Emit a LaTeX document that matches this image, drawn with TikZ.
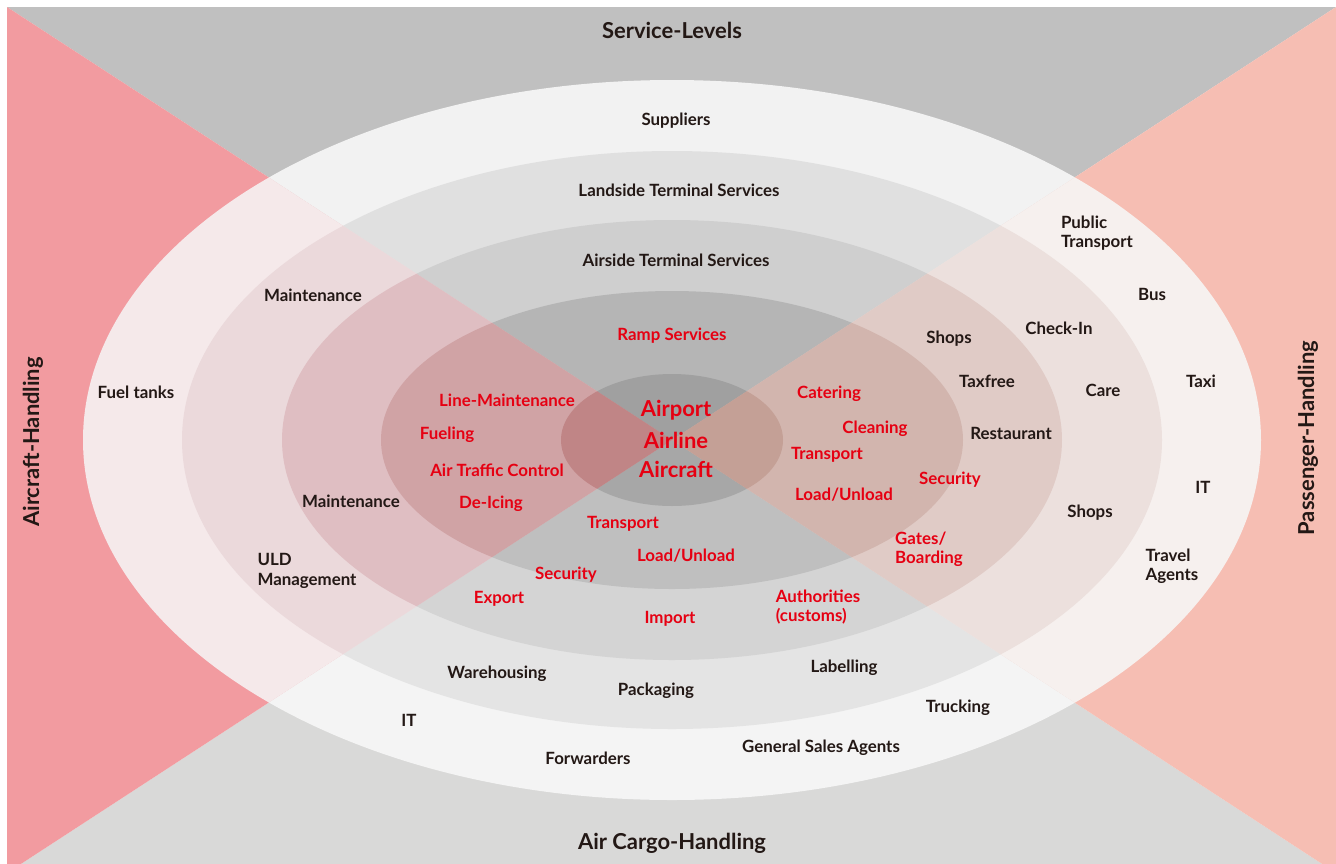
\documentclass[tikz,border=0pt]{standalone}
\usepackage{fontspec}
\setmainfont{Lato}
\definecolor{toptri}{RGB}{192,192,192}
\definecolor{bottri}{RGB}{217,217,216}
\definecolor{lefttri}{RGB}{242,155,160}
\definecolor{righttri}{RGB}{246,190,179}
\definecolor{labelred}{RGB}{230,0,18}
\definecolor{labeldark}{RGB}{35,24,21}
% ring shades, outer (a) to inner (e)
\definecolor{ringtopa}{RGB}{242,242,242}
\definecolor{ringtopb}{RGB}{224,224,224}
\definecolor{ringtopc}{RGB}{207,207,207}
\definecolor{ringtopd}{RGB}{181,181,181}
\definecolor{ringtope}{RGB}{160,160,160}
\definecolor{ringbota}{RGB}{244,244,244}
\definecolor{ringbotb}{RGB}{228,228,228}
\definecolor{ringbotc}{RGB}{212,212,212}
\definecolor{ringbotd}{RGB}{191,191,191}
\definecolor{ringbote}{RGB}{167,167,167}
\definecolor{ringlefta}{RGB}{245,233,234}
\definecolor{ringleftb}{RGB}{235,217,219}
\definecolor{ringleftc}{RGB}{223,190,194}
\definecolor{ringleftd}{RGB}{208,163,165}
\definecolor{ringlefte}{RGB}{192,133,134}
\definecolor{ringrighta}{RGB}{246,240,238}
\definecolor{ringrightb}{RGB}{236,224,221}
\definecolor{ringrightc}{RGB}{224,203,198}
\definecolor{ringrightd}{RGB}{210,181,174}
\definecolor{ringrighte}{RGB}{196,160,150}

\tikzset{
  darklabel/.style={font=\fontsize{9.6}{11}\selectfont\bfseries, text=labeldark, align=left, inner sep=0pt},
  redlabel/.style={darklabel, text=labelred},
  hublabel/.style={font=\fontsize{12.5}{15}\selectfont\bfseries, text=labelred, align=center, inner sep=0pt},
  sidelabel/.style={font=\fontsize{12.5}{14}\selectfont\bfseries, text=labeldark, inner sep=0pt}
}

\begin{document}
\begin{tikzpicture}[x=0.02cm, y=-0.02cm]
    \useasboundingbox (0,0) rectangle (1336,863);
    \clip (0,0) rectangle (1336,863);
    \coordinate (hub) at (672,440);

    % Four handling areas
    \fill[toptri] (7,7) -- (1336,7) -- (hub) -- cycle;
    \fill[bottri] (7,873) -- (1336,873) -- (hub) -- cycle;
    \fill[lefttri] (7,7) -- (7,873) -- (hub) -- cycle;
    \fill[righttri] (1336,7) -- (1336,873) -- (hub) -- cycle;

    % Service rings
    \foreach \rx/\ry/\n in {589/360/a, 490/289/b, 390/220/c, 291/149/d, 111/66/e} {
        \begin{scope}
            \clip (7,7) -- (1336,7) -- (hub) -- cycle;
            \fill[ringtop\n] (hub) ellipse [x radius=\rx, y radius=\ry];
        \end{scope}
        \begin{scope}
            \clip (7,873) -- (1336,873) -- (hub) -- cycle;
            \fill[ringbot\n] (hub) ellipse [x radius=\rx, y radius=\ry];
        \end{scope}
        \begin{scope}
            \clip (7,7) -- (7,873) -- (hub) -- cycle;
            \fill[ringleft\n] (hub) ellipse [x radius=\rx, y radius=\ry];
        \end{scope}
        \begin{scope}
            \clip (1336,7) -- (1336,873) -- (hub) -- cycle;
            \fill[ringright\n] (hub) ellipse [x radius=\rx, y radius=\ry];
        \end{scope}
    }

    % Area titles
    \node[sidelabel] (svclevels) at (672,30) {Service-Levels};
    \node[sidelabel] (cargohdl) at (672,843) {Air Cargo-Handling};
    \node[sidelabel, rotate=90] (acfthdl) at (33,442) {Aircraft-Handling};
    \node[sidelabel, rotate=90] (paxhdl) at (1308,438) {Passenger-Handling};

    % Ring titles
    \node[darklabel] (suppliers) at (676,121) {Suppliers};
    \node[darklabel] (landside) at (679,190) {Landside Terminal Services};
    \node[darklabel] (airside) at (676,260) {Airside Terminal Services};
    \node[redlabel] (ramp) at (672,336) {Ramp Services};
    \node[hublabel] (airport) at (676,410) {Airport};
    \node[hublabel] (airline) at (676,440) {Airline};
    \node[hublabel] (aircraft) at (676,469) {Aircraft};

    % Aircraft-Handling
    \node[darklabel] (maint) at (313,295) {Maintenance};
    \node[darklabel] (fueltanks) at (136,392) {Fuel tanks};
    \node[darklabel] (maintb) at (351,501) {Maintenance};
    \node[darklabel] (uld) at (307,571) {ULD\\Management};
    \node[redlabel] (linemaint) at (507,400) {Line-Maintenance};
    \node[redlabel] (fueling) at (447,435) {Fueling};
    \node[redlabel] (atc) at (497,470) {Air Traffic Control};
    \node[redlabel] (deicing) at (491,504) {De-Icing};

    % Air Cargo-Handling
    \node[redlabel] (cargotransp) at (623,524) {Transport};
    \node[redlabel] (cargoload) at (686,556) {Load/Unload};
    \node[redlabel] (cargosec) at (566,575) {Security};
    \node[redlabel] (export) at (499,599) {Export};
    \node[redlabel] (import) at (670,619) {Import};
    \node[redlabel] (customs) at (818,607) {Authorities\\(customs)};
    \node[darklabel] (warehouse) at (497,674) {Warehousing};
    \node[darklabel] (packaging) at (656,691) {Packaging};
    \node[darklabel] (labelling) at (844,668) {Labelling};
    \node[darklabel] (cargoit) at (409,720) {IT};
    \node[darklabel] (forwarders) at (588,758) {Forwarders};
    \node[darklabel] (gsa) at (821,748) {General Sales Agents};
    \node[darklabel] (trucking) at (958,708) {Trucking};

    % Passenger-Handling
    \node[redlabel] (catering) at (829,394) {Catering};
    \node[redlabel] (cleaning) at (875,429) {Cleaning};
    \node[redlabel] (paxtransp) at (827,455) {Transport};
    \node[redlabel] (paxload) at (844,495) {Load/Unload};
    \node[redlabel] (paxsec) at (950,480) {Security};
    \node[redlabel] (gates) at (929,549) {Gates/\\Boarding};
    \node[darklabel] (shops) at (949,339) {Shops};
    \node[darklabel] (taxfree) at (987,381) {Taxfree};
    \node[darklabel] (restaurant) at (1011,433) {Restaurant};
    \node[darklabel] (checkin) at (1059,328) {Check-In};
    \node[darklabel] (care) at (1103,390) {Care};
    \node[darklabel] (shopsb) at (1090,513) {Shops};
    \node[darklabel] (publictr) at (1097,233) {Public\\Transport};
    \node[darklabel] (bus) at (1152,294) {Bus};
    \node[darklabel] (taxi) at (1201,381) {Taxi};
    \node[darklabel] (paxit) at (1203,487) {IT};
    \node[darklabel] (travel) at (1172,566) {Travel\\Agents};
\end{tikzpicture}
\end{document}
